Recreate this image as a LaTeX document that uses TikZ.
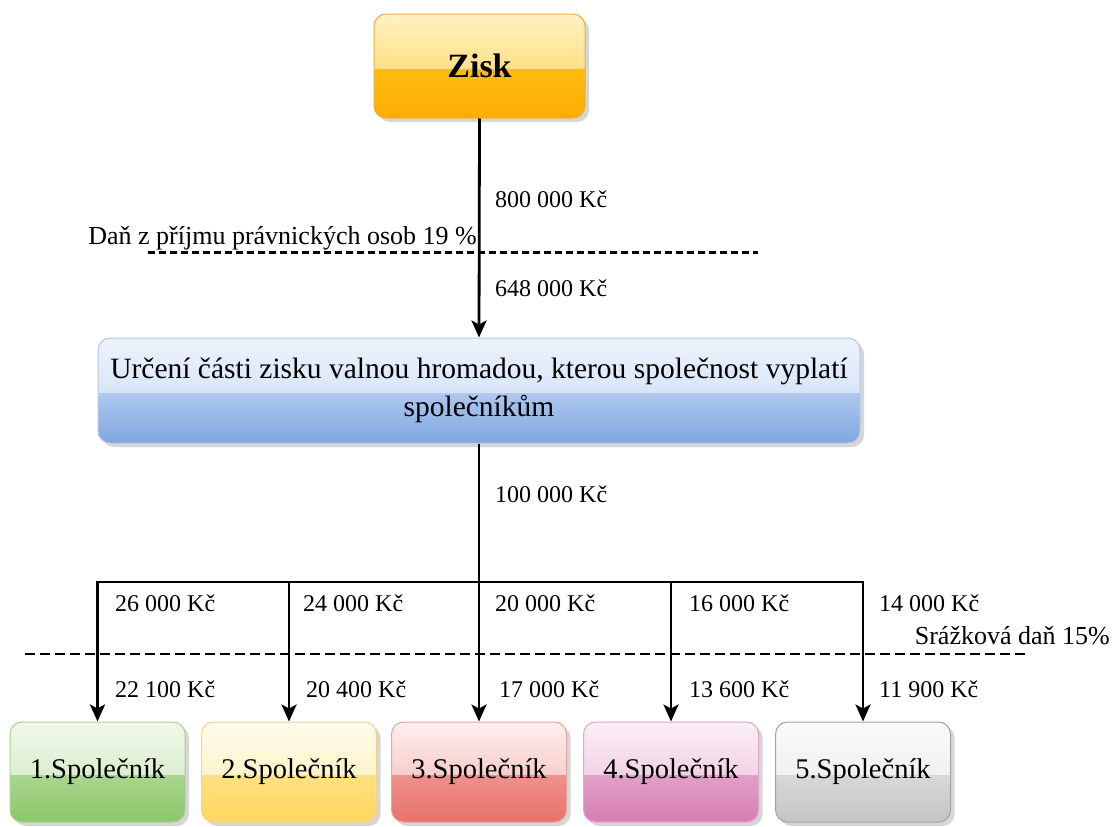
\documentclass[tikz,border=0pt]{standalone}
\usepackage{fontspec}
\setmainfont{Liberation Serif}
\usetikzlibrary{arrows.meta,shadows,calc}
\definecolor{oA}{HTML}{FFF1C4}\definecolor{oB}{HTML}{FFD24E}\definecolor{oC}{HTML}{FFBC12}\definecolor{oD}{HTML}{FFAC00}\definecolor{oE}{HTML}{E9B04A}
\definecolor{bA}{HTML}{EDF3FC}\definecolor{bB}{HTML}{C6D8F3}\definecolor{bC}{HTML}{AEC8EF}\definecolor{bD}{HTML}{7FA6E1}\definecolor{bE}{HTML}{B4C7E9}
\definecolor{gA}{HTML}{F0F8EA}\definecolor{gB}{HTML}{C8E5B5}\definecolor{gC}{HTML}{A9D68F}\definecolor{gD}{HTML}{8CC769}\definecolor{gE}{HTML}{A9D192}
\definecolor{yA}{HTML}{FFFBEC}\definecolor{yB}{HTML}{FFEDAB}\definecolor{yC}{HTML}{FFE183}\definecolor{yD}{HTML}{FFD65E}\definecolor{yE}{HTML}{EED690}
\definecolor{rA}{HTML}{FDEEED}\definecolor{rB}{HTML}{F4B3AF}\definecolor{rC}{HTML}{F0918C}\definecolor{rD}{HTML}{E8716B}\definecolor{rE}{HTML}{E8A4A0}
\definecolor{pA}{HTML}{FBEFF6}\definecolor{pB}{HTML}{EAB9D6}\definecolor{pC}{HTML}{E1A0C8}\definecolor{pD}{HTML}{D67EB4}\definecolor{pE}{HTML}{DDA8CA}
\definecolor{kA}{HTML}{FAFAFA}\definecolor{kB}{HTML}{E8E8E8}\definecolor{kC}{HTML}{D8D8D8}\definecolor{kD}{HTML}{C4C4C4}\definecolor{kE}{HTML}{A4A4A4}
\tikzset{
  gloss/.style={
    rounded corners=12pt, draw=#1E, line width=1pt,
    drop shadow={shadow xshift=4pt, shadow yshift=-4pt, fill=black!40, opacity=0.4},
    path picture={
      \fill[sharp corners, top color=#1A, bottom color=#1B] (path picture bounding box.north west) rectangle ($(path picture bounding box.east)+(0,-3pt)$);
      \fill[sharp corners, top color=#1C, bottom color=#1D] ($(path picture bounding box.west)+(0,-3pt)$) rectangle (path picture bounding box.south east);
    }
  },
  txt/.style={font=\fontsize{24}{28}\selectfont, inner sep=0pt, anchor=west},
  taxtxt/.style={font=\fontsize{26}{30}\selectfont, inner sep=0pt, anchor=east},
  conn/.style={line width=2.8pt},
  arr/.style={line width=2.8pt, -{Stealth[length=17pt,width=15pt,inset=4pt]}},
  dashA/.style={line width=3pt, dash pattern=on 7pt off 4pt},
  dashB/.style={line width=2.2pt, dash pattern=on 10pt off 5pt},
  partner/.style={minimum width=175pt, minimum height=100pt, font=\fontsize{28.5}{32}\selectfont, inner sep=0pt},
}
\begin{document}
\begin{tikzpicture}[x=1pt,y=-1pt]
\useasboundingbox (0,0) rectangle (1112,827);

\node[gloss=o, minimum width=211pt, minimum height=104pt, font=\bfseries\fontsize{34}{38}\selectfont] (zisk) at (479.5,66) {Zisk};

\node[gloss=b, minimum width=762pt, minimum height=105pt, align=center, font=\fontsize{29.5}{38}\selectfont, inner sep=0pt] (urceni) at (479,390.5)
  {Určení části zisku valnou hromadou, kterou společnost vyplatí\\společníkům};

\node[partner, gloss=g] (p1) at (97.5,772) {1.Společník};
\node[partner, gloss=y] (p2) at (289,772) {2.Společník};
\node[partner, gloss=r] (p3) at (479,772) {3.Společník};
\node[partner, gloss=p] (p4) at (671,772) {4.Společník};
\node[partner, gloss=k] (p5) at (863,772) {5.Společník};

% main flow
\draw[arr] (zisk.south) -- (urceni.north);
\coordinate (b1) at (97.5,582);
\coordinate (b2) at (289,582);
\coordinate (b3) at (479,582);
\coordinate (b4) at (671,582);
\coordinate (b5) at (863,582);
\draw[conn] (urceni.south) -- (b3);
\draw[conn, line cap=rect] (b1) -- (b5);
\draw[arr] (b1) -- (p1.north);
\draw[arr] (b2) -- (p2.north);
\draw[arr] (b3) -- (p3.north);
\draw[arr] (b4) -- (p4.north);
\draw[arr] (b5) -- (p5.north);

% dashed lines
\coordinate (d1a) at (148,252);
\coordinate (d1b) at (758,252);
\draw[dashA] (d1a) -- (d1b);
\coordinate (d2a) at (25,654);
\coordinate (d2b) at (1030,654);
\draw[dashB] (d2a) -- (d2b);

% labels
\node[txt] (l800) at (495,199) {800 000 Kč};
\node[txt] (l648) at (495,288) {648 000 Kč};
\node[taxtxt] (dan) at (477,238) {Daň z příjmu právnických osob 19 \%};
\node[txt] (l100) at (495,494) {100 000 Kč};
\node[txt] (a1) at (115,603) {26 000 Kč};
\node[txt] (a2) at (303,603) {24 000 Kč};
\node[txt] (a3) at (495,603) {20 000 Kč};
\node[txt] (a4) at (689,603) {16 000 Kč};
\node[txt] (a5) at (879,603) {14 000 Kč};
\node[taxtxt] (srazka) at (1110,636) {Srážková daň 15\%};
\node[txt] (c1) at (115,689) {22 100 Kč};
\node[txt] (c2) at (306,689) {20 400 Kč};
\node[txt] (c3) at (499,689) {17 000 Kč};
\node[txt] (c4) at (689,689) {13 600 Kč};
\node[txt] (c5) at (879,689) {11 900 Kč};
\end{tikzpicture}
\end{document}
